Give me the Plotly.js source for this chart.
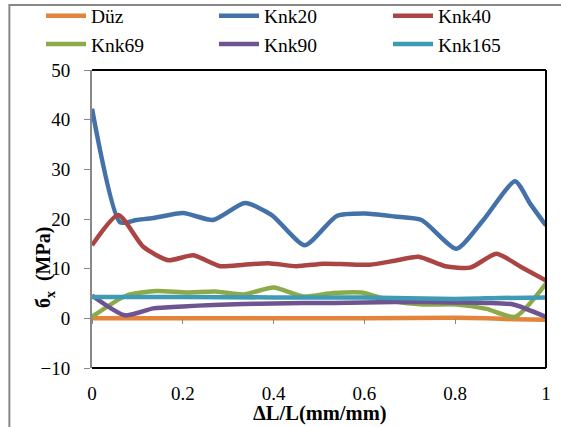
<!DOCTYPE html>
<html>
<head>
<meta charset="utf-8">
<script src="https://cdn.plot.ly/plotly-3.0.1.min.js"></script>
<style>
html,body{margin:0;padding:0;background:#fff;}
#chart{width:561px;height:427px;}
#chart svg text{font-family:'Liberation Serif' !important;}
</style>
</head>
<body>
<div id="chart"></div>
<script>
// Series names
const seriesNames = ["Düz", "Knk20", "Knk40", "Knk69", "Knk90", "Knk165"];

// Düz
const xDuz = [0, 0.2, 0.4, 0.6, 0.8, 0.87, 0.93, 1];
const yDuz = [0, 0, 0, 0, 0.1, 0, -0.2, -0.3];

// Knk20
const xKnk20 = [0, 0.062, 0.098, 0.135, 0.201, 0.267, 0.337, 0.396, 0.469, 0.539, 0.601, 0.667, 0.726, 0.803, 0.862, 0.932, 0.965, 1];
const yKnk20 = [42.2, 19.3, 19.8, 20.2, 21.2, 19.8, 23.2, 20.8, 14.7, 20.6, 21.1, 20.5, 19.8, 14.0, 19.8, 27.6, 23.1, 18.7];

// Knk40
const xKnk40 = [0, 0.058, 0.113, 0.168, 0.223, 0.282, 0.335, 0.388, 0.45, 0.51, 0.56, 0.612, 0.667, 0.719, 0.778, 0.833, 0.891, 0.944, 1];
const yKnk40 = [14.7, 20.8, 14.4, 11.7, 12.7, 10.5, 10.8, 11.1, 10.5, 11.0, 10.9, 10.8, 11.6, 12.4, 10.5, 10.2, 13.0, 10.4, 7.6];

// Knk69
const xKnk69 = [0, 0.076, 0.142, 0.208, 0.271, 0.333, 0.4, 0.465, 0.531, 0.594, 0.656, 0.73, 0.803, 0.869, 0.932, 1];
const yKnk69 = [0.3, 4.6, 5.5, 5.2, 5.4, 4.8, 6.2, 4.4, 5.1, 5.2, 3.6, 2.8, 2.8, 1.9, 0.3, 7.0];

// Knk90
const xKnk90 = [0, 0.073, 0.135, 0.2, 0.267, 0.333, 0.4, 0.467, 0.533, 0.6, 0.667, 0.733, 0.8, 0.867, 0.928, 1];
const yKnk90 = [4.6, 0.6, 2.0, 2.4, 2.7, 2.9, 3.0, 3.1, 3.1, 3.2, 3.3, 3.3, 3.2, 3.1, 2.8, 0.3];

// Knk165
const xKnk165 = [0, 0.2, 0.4, 0.6, 0.8, 0.9, 1];
const yKnk165 = [4.3, 4.3, 4.2, 4.2, 3.9, 4.1, 4.2];

// Axis ticks
const xTickVals = [0, 0.2, 0.4, 0.6, 0.8, 1];
const xTickText = ["0", "0.2", "0.4", "0.6", "0.8", "1"];
const yTickVals = [-10, 0, 10, 20, 30, 40, 50];

const colors = ["#E2853A", "#4472A8", "#AA4543", "#8DAA4B", "#6E5491", "#3F9BB4"];
const xs = [xDuz, xKnk20, xKnk40, xKnk69, xKnk90, xKnk165];
const ys = [yDuz, yKnk20, yKnk40, yKnk69, yKnk90, yKnk165];
// legend column for each series
const legendIds = ["legend", "legend2", "legend3", "legend", "legend2", "legend3"];

const FAM = "Liberation Serif";
const FS = 19;

const traces = seriesNames.map((n, i) => ({
  type: "scatter", mode: "lines", name: n, x: xs[i], y: ys[i], legend: legendIds[i],
  line: {color: colors[i], width: 4.5, shape: "spline", smoothing: 0.6}
}));
traces.push({type: "scatter", mode: "lines", x: [0, 1], y: [0, 0], xaxis: "x2", showlegend: false, hoverinfo: "skip", line: {width: 0}, opacity: 0});

function leg(xpx) {
  return {
    orientation: "v", x: (xpx - 92) / 454, y: 1.2466, xanchor: "left", yanchor: "top",
    itemwidth: 40, font: {family: FAM, size: 19.5, color: "#000"},
    tracegroupgap: 0, bgcolor: "rgba(0,0,0,0)", borderwidth: 0
  };
}

const layout = {
  width: 561, height: 427,
  margin: {l: 92, r: 15, t: 70, b: 59, autoexpand: false},
  paper_bgcolor: "#fff", plot_bgcolor: "#fff",
  font: {family: FAM, size: FS, color: "#000"},
  showlegend: true,
  legend: leg(41), legend2: leg(214), legend3: leg(388),
  xaxis: {
    range: [0, 1], tickvals: xTickVals, ticktext: xTickText, ticks: "",
    showgrid: false, zeroline: false, showline: false, ticklabelstandoff: 12,
    tickfont: {family: FAM, size: FS, color: "#000"}
  },
  xaxis2: {
    overlaying: "x", anchor: "free", position: 50 / 298, range: [0, 1],
    tickvals: xTickVals, showticklabels: false, ticks: "outside", ticklen: 5,
    tickcolor: "#888", tickwidth: 1, showgrid: false, zeroline: false, showline: false
  },
  yaxis: {
    range: [-10, 50], tickvals: yTickVals, ticks: "outside", ticklen: 6, tickcolor: "#888",
    showgrid: false, zeroline: true, zerolinecolor: "#888", zerolinewidth: 1,
    showline: true, linecolor: "#888", linewidth: 2, ticklabelstandoff: 10,
    tickfont: {family: FAM, size: FS, color: "#000"}
  },
  shapes: [
    {type: "line", xref: "paper", yref: "paper", x0: 0, x1: 1, y0: 1, y1: 1, line: {color: "#000", width: 2}},
    {type: "line", xref: "paper", yref: "paper", x0: 1, x1: 1, y0: 0, y1: 1, line: {color: "#000", width: 2}},
    {type: "line", xref: "paper", yref: "paper", x0: 0, x1: 1, y0: 0, y1: 0, line: {color: "#000", width: 2}},
    {type: "rect", xref: "paper", yref: "paper", x0: -0.182, x1: 1.06, y0: -0.25, y1: 1.218, line: {color: "#888", width: 2}, fillcolor: "rgba(0,0,0,0)", layer: "below"}
  ],
  annotations: [
    {xref: "paper", yref: "paper", x: 0.502, y: -0.152, text: "<b>ΔL/L(mm/mm)</b>", showarrow: false, xanchor: "center", yanchor: "middle", font: {family: FAM, size: 20.5, color: "#000"}},
    {xref: "paper", yref: "paper", x: -0.103, y: 0.336, text: "<b>б<sub>x</sub>  (MPa)</b>", showarrow: false, textangle: -90, xanchor: "center", yanchor: "middle", font: {family: FAM, size: 20, color: "#000"}}
  ]
};

const gd = document.getElementById("chart");
function forceFont() {
  gd.querySelectorAll("text, tspan").forEach(t => { t.style.fontFamily = "'Liberation Serif'"; });
}
Plotly.newPlot(gd, traces, layout, {staticPlot: true}).then(forceFont);
forceFont();
</script>
</body>
</html>
